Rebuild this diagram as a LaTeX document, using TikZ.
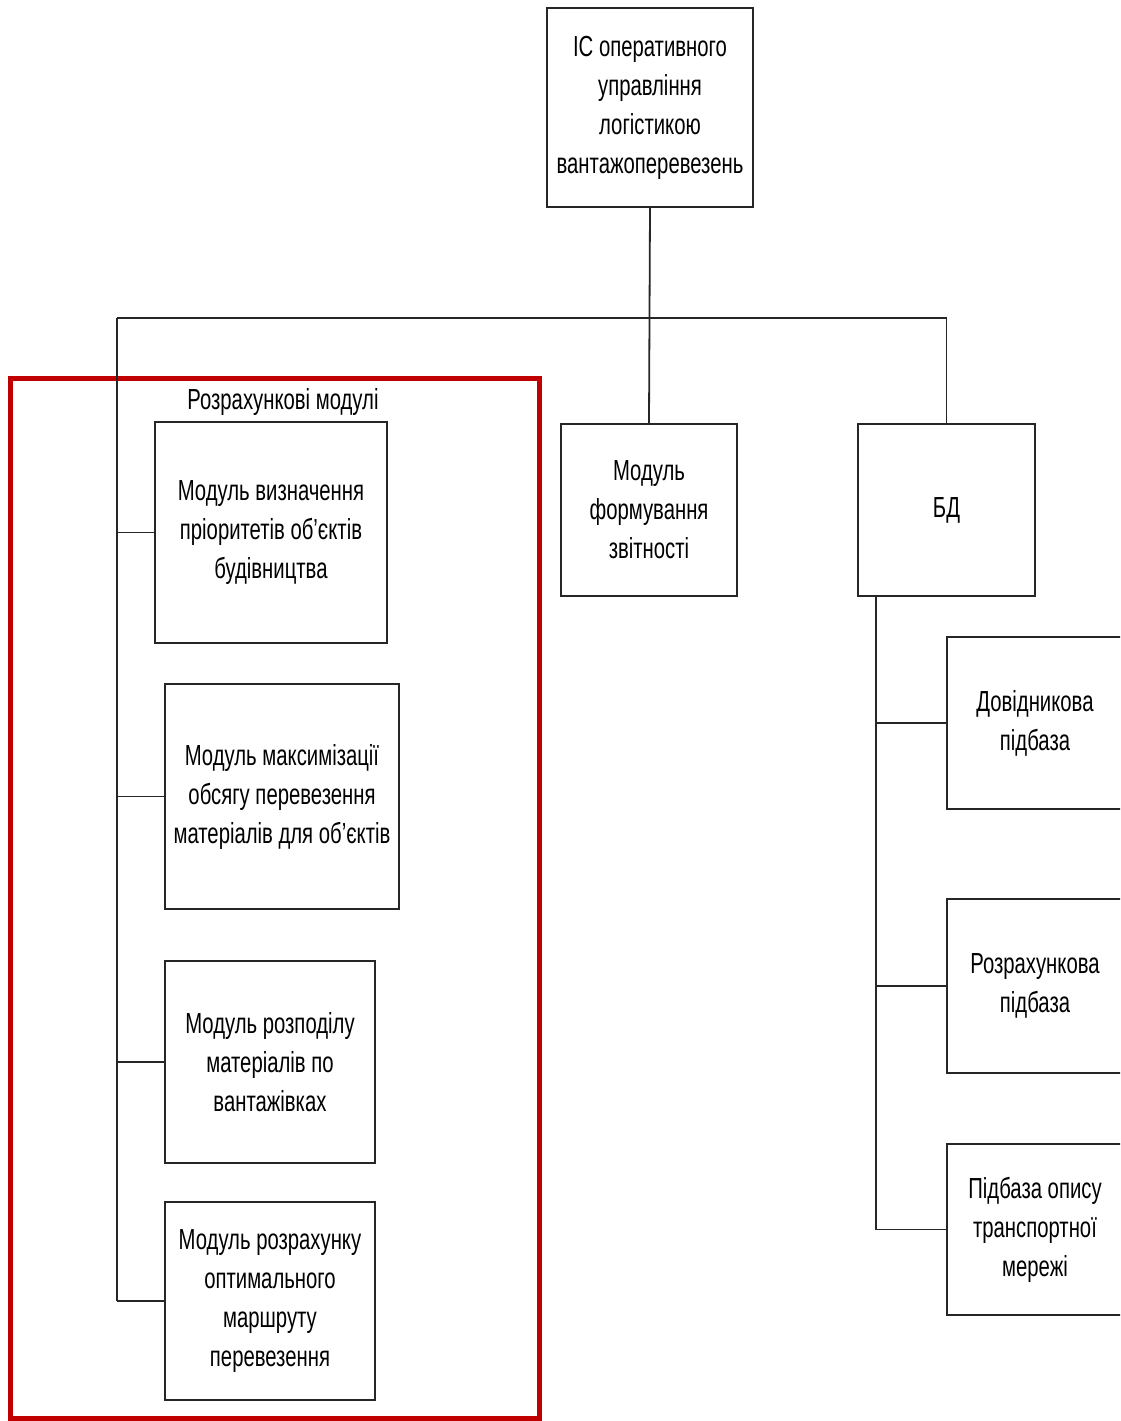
\documentclass[tikz,border=0pt]{standalone}
\usepackage{fontspec}
\setmainfont{Liberation Sans}[FakeStretch=0.70]
\begin{document}
\begin{tikzpicture}[x=1pt,y=-1pt,
  box/.style={draw=black!85, line width=2pt, align=center, inner sep=0pt,
    font=\fontsize{29}{39}\selectfont},
  link/.style={draw=black!85, line width=1.8pt},
  frame/.style={draw={rgb,255:red,192;green,0;blue,0}, line width=5pt}]
\useasboundingbox (0,0) rectangle (1120,1421);
\clip (0,0) rectangle (1120,1421);

% root of the structure
\node[box, minimum width=206, minimum height=199] (top) at (650,107.5)
  {ІС оперативного\\управління\\логістикою\\вантажоперевезень};

% group of calculation modules
\draw[frame] (10,378.5) rectangle (539,1418.5);
\node[font=\fontsize{29}{39}\selectfont] (grp) at (283,402) {Розрахункові модулі};

\node[box, minimum width=232, minimum height=221] (m1) at (271,532.5)
  {Модуль визначення\\пріоритетів об'єктів\\будівництва};
\node[box, minimum width=234, minimum height=225] (m2) at (282,796.5)
  {Модуль максимізації\\обсягу перевезення\\матеріалів для об'єктів};
\node[box, minimum width=210, minimum height=202] (m3) at (270,1062)
  {Модуль розподілу\\матеріалів по\\вантажівках};
\node[box, minimum width=210, minimum height=198] (m4) at (270,1301)
  {Модуль розрахунку\\оптимального\\маршруту\\перевезення};

% reporting module and database
\node[box, minimum width=176, minimum height=172] (rep) at (649,510)
  {Модуль\\формування\\звітності};
\node[box, minimum width=177, minimum height=172] (db) at (946.5,510) {БД};

\node[box, minimum width=176, minimum height=172] (s1) at (1035,723)
  {Довідникова\\підбаза};
\node[box, minimum width=176, minimum height=174] (s2) at (1035,986)
  {Розрахункова\\підбаза};
\node[box, minimum width=176, minimum height=171] (s3) at (1035,1229.5)
  {Підбаза опису\\транспортної\\мережі};

% connectors
\coordinate (busL) at (117,318);
\coordinate (busR) at (946.5,318);
\coordinate (leftEnd) at (117,1301);
\coordinate (dbStem) at (876,596);

\draw[link] (top.south) -- (rep.north);
\draw[link] (busL) -- (busR);
\draw[link] (busR) -- (db.north);
\draw[link] (busL) -- (leftEnd);
\foreach \m in {m1,m2,m3,m4}
  \draw[link] (\m.west) -- (\m.west -| busL);
\draw[link] (dbStem) |- (s3.west);
\foreach \s in {s1,s2}
  \draw[link] (\s.west) -- (\s.west -| dbStem);
\end{tikzpicture}
\end{document}
